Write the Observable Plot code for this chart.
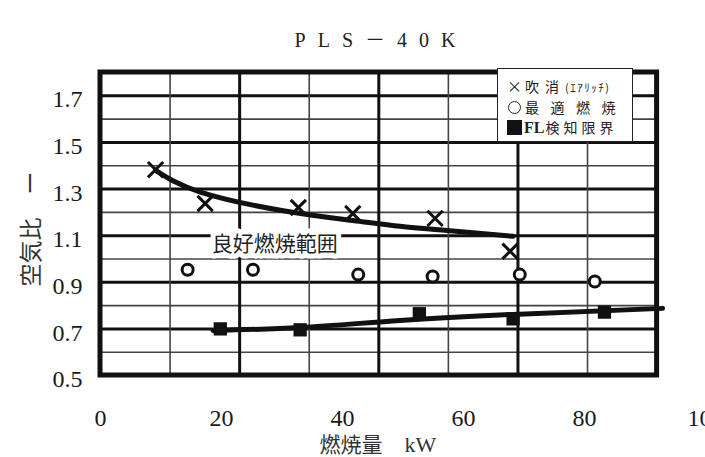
<!DOCTYPE html>
<html><head><meta charset="utf-8">
<script src="https://cdn.jsdelivr.net/npm/d3@7"></script>
<script src="https://cdn.jsdelivr.net/npm/@observablehq/plot@0.6"></script>
<style>
html,body{margin:0;padding:0;background:#fff;overflow:hidden;}
#wrap{position:relative;width:705px;height:457px;overflow:hidden;}
#title{position:absolute;left:381px;top:30px;transform:translateX(-50%);white-space:nowrap;font:20px/20px "Liberation Serif","Noto Sans CJK JP",serif;letter-spacing:12px;color:#222;}
#ylab{position:absolute;left:29px;top:229px;transform:translate(-50%,-50%) rotate(-90deg);white-space:nowrap;font:23px/23px "Noto Sans CJK JP",sans-serif;color:#333;}
#xlab{position:absolute;left:378px;top:433px;transform:translateX(-50%);white-space:nowrap;font:21px/21px "Noto Sans CJK JP","Liberation Serif",serif;color:#333;}
#xlab .u{font-family:"Liberation Serif",serif;font-size:22px;margin-left:22px;}
#legend{position:absolute;left:497px;top:68px;width:136px;height:74px;background:#fff;border:1.5px solid #222;box-sizing:border-box;padding:7px 0 0 9px;font:14px "Noto Sans CJK JP",sans-serif;color:#222;}
#legend .row{white-space:nowrap;height:20.6px;line-height:20.6px;position:relative;padding-left:18px;}
#legend .r0{letter-spacing:6px;}
#legend .r1{letter-spacing:11.5px;}
#legend .r2{letter-spacing:4px;padding-left:17px;}
#legend .small{font-size:11px;letter-spacing:1.5px;}
#legend b{font-family:"Liberation Serif",serif;font-weight:bold;font-size:16px;letter-spacing:0;margin-right:1px;}
#legend .sx{position:absolute;left:0;top:0;font-size:15px;letter-spacing:0;}
#legend .sc{position:absolute;left:1px;top:4px;width:11px;height:11px;border:1.6px solid #222;border-radius:50%;}
#legend .ss{position:absolute;left:0;top:3px;width:15px;height:15px;background:#111;}
svg{position:absolute;left:0;top:0;}
</style>
</head><body>
<div id="wrap"></div>
<script>
// ---- data ----
const titleText = "PLS－40K";
const xLabelText = "燃焼量";
const xUnitText = "kW";
const yLabelText = "空気比　ー";
const seriesNames = ["吹消", "最適燃焼", "FL検知限界"];
const seriesNote = "(ｴｱﾘｯﾁ)";
const regionLabel = ["良好燃焼範囲"];
const regionLabelX = [28.8];
const regionLabelY = [1.062];

const xTicks = [0, 20, 40, 60, 80, 100];
const yTicks = [0.5, 0.7, 0.9, 1.1, 1.3, 1.5, 1.7];
const yMinor = [0.6, 0.8, 1.0, 1.2, 1.4, 1.6];
const frameX = [0, 92];
const frameY = [0.5, 1.8];
const xGridMajor = [23, 46, 69];
const xGridMinor = [11.5, 34.5, 57.5, 80.5];

const blowoffX = [9.1, 17.3, 32.7, 41.7, 55.3, 67.7];
const blowoffY = [1.383, 1.238, 1.221, 1.195, 1.174, 1.033];
const optimalX = [14.4, 25.2, 42.6, 54.9, 69.3, 81.7];
const optimalY = [0.954, 0.954, 0.933, 0.925, 0.933, 0.903];
const flX = [19.8, 33.0, 52.7, 68.2, 83.3];
const flY = [0.700, 0.696, 0.765, 0.743, 0.772];

const blowCurveX = [9.1, 16.5, 30.2, 41.7, 49.5, 57.3, 68.2];
const blowCurveY = [1.380, 1.287, 1.207, 1.165, 1.140, 1.122, 1.097];
const flCurveX = [18.6, 33.0, 49.5, 68.2, 92.9];
const flCurveY = [0.693, 0.706, 0.736, 0.762, 0.788];

// ---- build ----
const zip = (xs, ys) => xs.map((x, i) => ({x, y: ys[i]}));
const blowPts = zip(blowoffX, blowoffY);
const optPts = zip(optimalX, optimalY);
const flPts = zip(flX, flY);
const blowCurve = zip(blowCurveX, blowCurveY);
const flCurve = zip(flCurveX, flCurveY);
const labelData = regionLabel.map((t, i) => ({t, x: regionLabelX[i], y: regionLabelY[i]}));

const plot = Plot.plot({
  width: 705, height: 457,
  marginLeft: 100, marginRight: 0, marginTop: 72, marginBottom: 82,
  x: {domain: [0, 100]},
  y: {domain: frameY},
  style: {fontFamily: '"Liberation Serif","Noto Sans CJK JP",serif', background: "transparent", color: "#1a1a1a"},
  marks: [
    Plot.ruleY(yMinor, {x1: frameX[0], x2: frameX[1], stroke: "#444", strokeWidth: 1.6}),
    Plot.ruleY(yTicks.slice(1), {x1: frameX[0], x2: frameX[1], stroke: "#111", strokeWidth: 3}),
    Plot.ruleX(xGridMinor, {y1: frameY[0], y2: frameY[1], stroke: "#444", strokeWidth: 1.6}),
    Plot.ruleX(xGridMajor, {y1: frameY[0], y2: frameY[1], stroke: "#111", strokeWidth: 3}),
    Plot.rect([0], {x1: frameX[0], x2: frameX[1], y1: frameY[0], y2: frameY[1], fill: "none", stroke: "#111", strokeWidth: 5}),
    Plot.text(labelData, {x: "x", y: "y", text: "t", fontSize: 21, fontFamily: '"Noto Sans CJK JP",sans-serif', fill: "#222", stroke: "white", strokeWidth: 10, paintOrder: "stroke", strokeLinejoin: "round"}),
    Plot.line(blowCurve, {x: "x", y: "y", curve: "natural", stroke: "#111", strokeWidth: 5}),
    Plot.line(flCurve, {x: "x", y: "y", curve: "natural", stroke: "#111", strokeWidth: 5}),
    Plot.dot(blowPts, {x: "x", y: "y", symbol: "times", r: 7, stroke: "#111", strokeWidth: 3}),
    Plot.dot(optPts, {x: "x", y: "y", symbol: "circle", r: 5.5, fill: "white", stroke: "#111", strokeWidth: 3}),
    Plot.dot(flPts, {x: "x", y: "y", symbol: "square", r: 7.5, fill: "#111", stroke: "none"}),
    Plot.axisY(yTicks, {tickSize: 0, tickPadding: 18, fontSize: 24, dy: 4, label: null, tickFormat: d => d.toFixed(1)}),
    Plot.axisX(xTicks, {tickSize: 0, tickPadding: 33, fontSize: 24, label: null})
  ]
});

const wrap = document.getElementById("wrap");
wrap.appendChild(plot);

const title = document.createElement("div");
title.id = "title"; title.textContent = titleText; wrap.appendChild(title);

const ylab = document.createElement("div");
ylab.id = "ylab"; ylab.textContent = yLabelText; wrap.appendChild(ylab);

const xlab = document.createElement("div");
xlab.id = "xlab";
xlab.innerHTML = `${xLabelText}<span class="u">${xUnitText}</span>`;
wrap.appendChild(xlab);

const legend = document.createElement("div");
legend.id = "legend";
legend.innerHTML = seriesNames.map((n, i) => {
  if (i === 0) return `<div class="row r0"><span class="sx">×</span>${n}<span class="small">${seriesNote}</span></div>`;
  if (i === 1) return `<div class="row r1"><span class="sc"></span>${n}</div>`;
  return `<div class="row r2"><span class="ss"></span><b>${n.slice(0, 2)}</b>${n.slice(2)}</div>`;
}).join("");
wrap.appendChild(legend);
</script>
</body></html>
